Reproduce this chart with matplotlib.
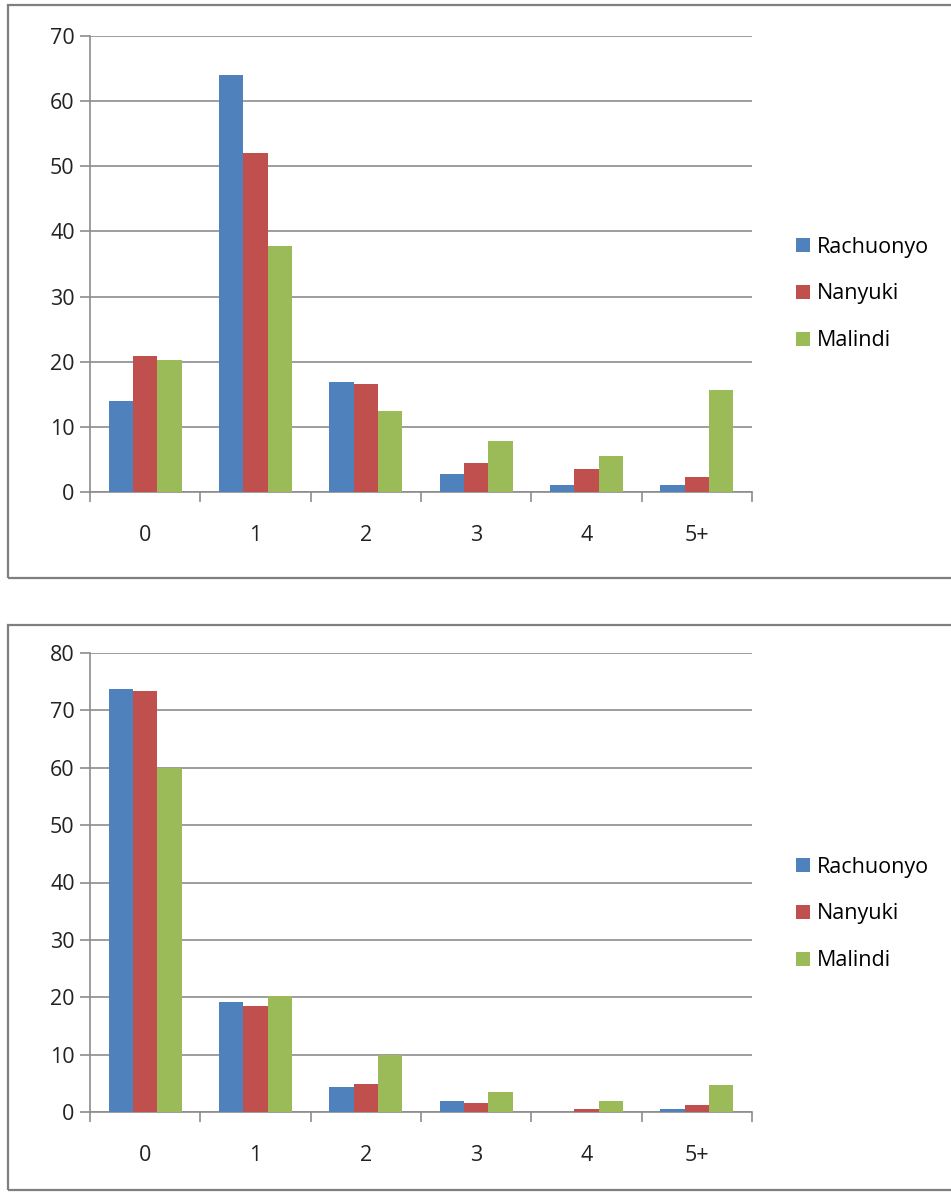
import matplotlib
matplotlib.use("Agg")
import matplotlib.pyplot as plt
import numpy as np
from matplotlib.patches import Rectangle

categories = ["0", "1", "2", "3", "4", "5+"]
series_names = ["Rachuonyo", "Nanyuki", "Malindi"]
colors = ["#4F81BD", "#C0504D", "#9BBB59"]

top_rachuonyo = [13.9, 64.0, 16.9, 2.8, 1.1, 1.0]
top_nanyuki = [20.9, 52.0, 16.6, 4.4, 3.6, 2.3]
top_malindi = [20.3, 37.7, 12.5, 7.8, 5.5, 15.6]

bot_rachuonyo = [73.8, 19.1, 4.4, 2.0, 0.0, 0.5]
bot_nanyuki = [73.3, 18.4, 4.9, 1.6, 0.5, 1.2]
bot_malindi = [59.9, 20.2, 10.0, 3.4, 2.0, 4.7]

W, H = 951, 1192
fig = plt.figure(figsize=(W / 100, H / 100), dpi=100)
plt.rcParams['font.family'] = ['Open Sans', 'DejaVu Sans']

def px_axes(x0, y0, x1, y1):
    return fig.add_axes([x0 / W, 1 - y1 / H, (x1 - x0) / W, (y1 - y0) / H])

def panel(x0, y0, x1, y1):
    fig.add_artist(Rectangle((x0 / W, 1 - y1 / H), (x1 - x0) / W, (y1 - y0) / H,
                             transform=fig.transFigure, fill=False,
                             edgecolor="#7f7f7f", linewidth=1.6))

grid_c = "#8c8c8c"
fs = 15.5

def draw(ax, data, ymax, legend_y, xpad):
    x = np.arange(len(categories))
    bw = 0.22
    for i, (vals, name, c) in enumerate(zip(data, series_names, colors)):
        ax.bar(x + (i - 1) * bw, vals, width=bw, color=c, label=name, zorder=3)
    ax.set_xlim(-0.5, len(categories) - 0.5)
    ax.set_ylim(0, ymax)
    ax.set_yticks(np.arange(0, ymax + 1, 10))
    ax.yaxis.grid(True, color=grid_c, linewidth=1.2, zorder=0)
    ax.set_axisbelow(True)
    ax.set_xticks(x)
    ax.set_xticklabels(categories)
    ax.set_xticks(np.arange(-0.5, len(categories)), minor=True)
    ax.tick_params(axis='x', which='major', length=0, pad=xpad, labelsize=fs, colors="#222222")
    ax.tick_params(axis='x', which='minor', length=7, color=grid_c, width=1.2)
    ax.tick_params(axis='y', length=7, color=grid_c, width=1.2, pad=4, labelsize=fs, labelcolor="#222222")
    for s in ["top", "right"]:
        ax.spines[s].set_visible(False)
    for s in ["left", "bottom"]:
        ax.spines[s].set_color(grid_c)
        ax.spines[s].set_linewidth(1.2)
    ax.legend(loc="center left", bbox_to_anchor=(785 / W, 1 - legend_y / H),
              bbox_transform=fig.transFigure, frameon=False, fontsize=fs,
              borderpad=0, handlelength=0.65, handleheight=0.65,
              handletextpad=0.35, labelspacing=1.2)

panel(8, 5, 960, 578)
panel(8, 625, 960, 1190)

ax1 = px_axes(90, 36, 752, 492)
draw(ax1, [top_rachuonyo, top_nanyuki, top_malindi], 70, 294, 24)

ax2 = px_axes(90, 653, 752, 1112)
draw(ax2, [bot_rachuonyo, bot_nanyuki, bot_malindi], 80, 914, 24)

fig.savefig("out.png", dpi=100)
